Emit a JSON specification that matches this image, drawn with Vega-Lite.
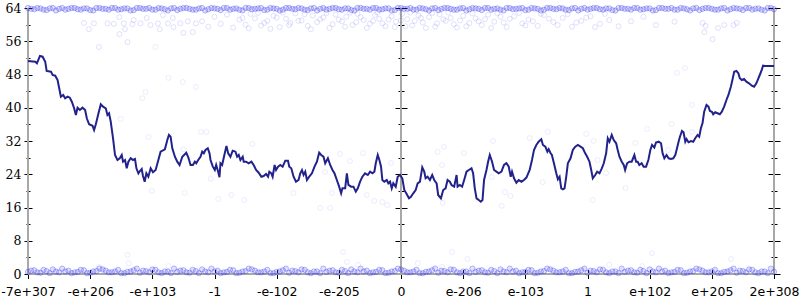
{
"$schema":"https://vega.github.io/schema/vega-lite/v6.json",
"width":746,"height":266,"autosize":"none",
"padding":{"left":28,"top":8,"right":26,"bottom":26},
"background":"white",
"config":{"view":{"stroke":null},"axis":{"grid":false,"domain":false,"tickColor":"#000","tickWidth":1,"labelColor":"#000"}},
"resolve":{"axis":{"x":"independent","y":"independent"}},
"datasets":{
"vr":[{"x":-6},{"x":0},{"x":6}],
"hr":[{"y":0}],
"top":[{"x":-6,"y":64},{"x":-5.9,"y":63.7},{"x":-5.8,"y":63.9},{"x":-5.7,"y":63.5},{"x":-5.6,"y":64},{"x":-5.5,"y":63.8},{"x":-5.4,"y":63.6},{"x":-5.3,"y":64},{"x":-5.2,"y":63.7},{"x":-5.1,"y":63.9},{"x":-5,"y":63.5},{"x":-4.9,"y":64},{"x":-4.8,"y":63.8},{"x":-4.7,"y":63.6},{"x":-4.6,"y":64},{"x":-4.5,"y":63.7},{"x":-4.4,"y":63.9},{"x":-4.3,"y":63.5},{"x":-4.2,"y":64},{"x":-4.1,"y":63.8},{"x":-4,"y":63.6},{"x":-3.9,"y":64},{"x":-3.8,"y":63.7},{"x":-3.7,"y":63.9},{"x":-3.6,"y":63.5},{"x":-3.5,"y":64},{"x":-3.4,"y":63.8},{"x":-3.3,"y":63.6},{"x":-3.2,"y":64},{"x":-3.1,"y":63.7},{"x":-3,"y":63.9},{"x":-2.9,"y":63.5},{"x":-2.8,"y":64},{"x":-2.7,"y":63.8},{"x":-2.6,"y":63.6},{"x":-2.5,"y":64},{"x":-2.4,"y":63.7},{"x":-2.3,"y":63.9},{"x":-2.2,"y":63.5},{"x":-2.1,"y":64},{"x":-2,"y":63.8},{"x":-1.9,"y":63.6},{"x":-1.8,"y":64},{"x":-1.7,"y":63.7},{"x":-1.6,"y":63.9},{"x":-1.5,"y":63.5},{"x":-1.4,"y":64},{"x":-1.3,"y":63.8},{"x":-1.2,"y":63.6},{"x":-1.1,"y":64},{"x":-1,"y":63.7},{"x":-0.9,"y":63.9},{"x":-0.8,"y":63.5},{"x":-0.7,"y":64},{"x":-0.6,"y":63.8},{"x":-0.5,"y":63.6},{"x":-0.4,"y":64},{"x":-0.3,"y":63.7},{"x":-0.2,"y":63.9},{"x":-0.1,"y":63.5},{"x":0,"y":64},{"x":0.1,"y":63.8},{"x":0.2,"y":63.6},{"x":0.3,"y":64},{"x":0.4,"y":63.7},{"x":0.5,"y":63.9},{"x":0.6,"y":63.5},{"x":0.7,"y":64},{"x":0.8,"y":63.8},{"x":0.9,"y":63.6},{"x":1,"y":64},{"x":1.1,"y":63.7},{"x":1.2,"y":63.9},{"x":1.3,"y":63.5},{"x":1.4,"y":64},{"x":1.5,"y":63.8},{"x":1.6,"y":63.6},{"x":1.7,"y":64},{"x":1.8,"y":63.7},{"x":1.9,"y":63.9},{"x":2,"y":63.5},{"x":2.1,"y":64},{"x":2.2,"y":63.8},{"x":2.3,"y":63.6},{"x":2.4,"y":64},{"x":2.5,"y":63.7},{"x":2.6,"y":63.9},{"x":2.7,"y":63.5},{"x":2.8,"y":64},{"x":2.9,"y":63.8},{"x":3,"y":63.6},{"x":3.1,"y":64},{"x":3.2,"y":63.7},{"x":3.3,"y":63.9},{"x":3.4,"y":63.5},{"x":3.5,"y":64},{"x":3.6,"y":63.8},{"x":3.7,"y":63.6},{"x":3.8,"y":64},{"x":3.9,"y":63.7},{"x":4,"y":63.9},{"x":4.1,"y":63.5},{"x":4.2,"y":64},{"x":4.3,"y":63.8},{"x":4.4,"y":63.6},{"x":4.5,"y":64},{"x":4.6,"y":63.7},{"x":4.7,"y":63.9},{"x":4.8,"y":63.5},{"x":4.9,"y":64},{"x":5,"y":63.8},{"x":5.1,"y":63.6},{"x":5.2,"y":64},{"x":5.3,"y":63.7},{"x":5.4,"y":63.9},{"x":5.5,"y":63.5},{"x":5.6,"y":64},{"x":5.7,"y":63.8},{"x":5.8,"y":63.6},{"x":5.9,"y":64},{"x":6,"y":63.7},
{"x":-5.95,"y":63.8},{"x":-5.85,"y":64},{"x":-5.75,"y":63.6},{"x":-5.65,"y":63.9},{"x":-5.55,"y":63.4},{"x":-5.45,"y":64},{"x":-5.35,"y":63.8},{"x":-5.25,"y":64},{"x":-5.15,"y":63.6},{"x":-5.05,"y":63.9},{"x":-4.95,"y":63.4},{"x":-4.85,"y":64},{"x":-4.75,"y":63.8},{"x":-4.65,"y":64},{"x":-4.55,"y":63.6},{"x":-4.45,"y":63.9},{"x":-4.35,"y":63.4},{"x":-4.25,"y":64},{"x":-4.15,"y":63.8},{"x":-4.05,"y":64},{"x":-3.95,"y":63.6},{"x":-3.85,"y":63.9},{"x":-3.75,"y":63.4},{"x":-3.65,"y":64},{"x":-3.55,"y":63.8},{"x":-3.45,"y":64},{"x":-3.35,"y":63.6},{"x":-3.25,"y":63.9},{"x":-3.15,"y":63.4},{"x":-3.05,"y":64},{"x":-2.95,"y":63.8},{"x":-2.85,"y":64},{"x":-2.75,"y":63.6},{"x":-2.65,"y":63.9},{"x":-2.55,"y":63.4},{"x":-2.45,"y":64},{"x":-2.35,"y":63.8},{"x":-2.25,"y":64},{"x":-2.15,"y":63.6},{"x":-2.05,"y":63.9},{"x":-1.95,"y":63.4},{"x":-1.85,"y":64},{"x":-1.75,"y":63.8},{"x":-1.65,"y":64},{"x":-1.55,"y":63.6},{"x":-1.45,"y":63.9},{"x":-1.35,"y":63.4},{"x":-1.25,"y":64},{"x":-1.15,"y":63.8},{"x":-1.05,"y":64},{"x":-0.95,"y":63.6},{"x":-0.85,"y":63.9},{"x":-0.75,"y":63.4},{"x":-0.65,"y":64},{"x":-0.55,"y":63.8},{"x":-0.45,"y":64},{"x":-0.35,"y":63.6},{"x":-0.25,"y":63.9},{"x":-0.15,"y":63.4},{"x":-0.05,"y":64},{"x":0.05,"y":63.8},{"x":0.15,"y":64},{"x":0.25,"y":63.6},{"x":0.35,"y":63.9},{"x":0.45,"y":63.4},{"x":0.55,"y":64},{"x":0.65,"y":63.8},{"x":0.75,"y":64},{"x":0.85,"y":63.6},{"x":0.95,"y":63.9},{"x":1.05,"y":63.4},{"x":1.15,"y":64},{"x":1.25,"y":63.8},{"x":1.35,"y":64},{"x":1.45,"y":63.6},{"x":1.55,"y":63.9},{"x":1.65,"y":63.4},{"x":1.75,"y":64},{"x":1.85,"y":63.8},{"x":1.95,"y":64},{"x":2.05,"y":63.6},{"x":2.15,"y":63.9},{"x":2.25,"y":63.4},{"x":2.35,"y":64},{"x":2.45,"y":63.8},{"x":2.55,"y":64},{"x":2.65,"y":63.6},{"x":2.75,"y":63.9},{"x":2.85,"y":63.4},{"x":2.95,"y":64},{"x":3.05,"y":63.8},{"x":3.15,"y":64},{"x":3.25,"y":63.6},{"x":3.35,"y":63.9},{"x":3.45,"y":63.4},{"x":3.55,"y":64},{"x":3.65,"y":63.8},{"x":3.75,"y":64},{"x":3.85,"y":63.6},{"x":3.95,"y":63.9},{"x":4.05,"y":63.4},{"x":4.15,"y":64},{"x":4.25,"y":63.8},{"x":4.35,"y":64},{"x":4.45,"y":63.6},{"x":4.55,"y":63.9},{"x":4.65,"y":63.4},{"x":4.75,"y":64},{"x":4.85,"y":63.8},{"x":4.95,"y":64},{"x":5.05,"y":63.6},{"x":5.15,"y":63.9},{"x":5.25,"y":63.4},{"x":5.35,"y":64},{"x":5.45,"y":63.8},{"x":5.55,"y":64},{"x":5.65,"y":63.6},{"x":5.75,"y":63.9},{"x":5.85,"y":63.4},{"x":5.95,"y":64}],
"bot":[{"x":-6,"y":0.5},{"x":-5.9,"y":0.9},{"x":-5.8,"y":0.3},{"x":-5.7,"y":0.7},{"x":-5.6,"y":1.1},{"x":-5.5,"y":0.4},{"x":-5.4,"y":0.6},{"x":-5.3,"y":0.2},{"x":-5.2,"y":0.5},{"x":-5.1,"y":0.9},{"x":-5,"y":0.3},{"x":-4.9,"y":0.7},{"x":-4.8,"y":1.1},{"x":-4.7,"y":0.4},{"x":-4.6,"y":0.6},{"x":-4.5,"y":0.2},{"x":-4.4,"y":0.5},{"x":-4.3,"y":0.9},{"x":-4.2,"y":0.3},{"x":-4.1,"y":0.7},{"x":-4,"y":1.1},{"x":-3.9,"y":0.4},{"x":-3.8,"y":0.6},{"x":-3.7,"y":0.2},{"x":-3.6,"y":0.5},{"x":-3.5,"y":0.9},{"x":-3.4,"y":0.3},{"x":-3.3,"y":0.7},{"x":-3.2,"y":1.1},{"x":-3.1,"y":0.4},{"x":-3,"y":0.6},{"x":-2.9,"y":0.2},{"x":-2.8,"y":0.5},{"x":-2.7,"y":0.9},{"x":-2.6,"y":0.3},{"x":-2.5,"y":0.7},{"x":-2.4,"y":1.1},{"x":-2.3,"y":0.4},{"x":-2.2,"y":0.6},{"x":-2.1,"y":0.2},{"x":-2,"y":0.5},{"x":-1.9,"y":0.9},{"x":-1.8,"y":0.3},{"x":-1.7,"y":0.7},{"x":-1.6,"y":1.1},{"x":-1.5,"y":0.4},{"x":-1.4,"y":0.6},{"x":-1.3,"y":0.2},{"x":-1.2,"y":0.5},{"x":-1.1,"y":0.9},{"x":-1,"y":0.3},{"x":-0.9,"y":0.7},{"x":-0.8,"y":1.1},{"x":-0.7,"y":0.4},{"x":-0.6,"y":0.6},{"x":-0.5,"y":0.2},{"x":-0.4,"y":0.5},{"x":-0.3,"y":0.9},{"x":-0.2,"y":0.3},{"x":-0.1,"y":0.7},{"x":0,"y":1.1},{"x":0.1,"y":0.4},{"x":0.2,"y":0.6},{"x":0.3,"y":0.2},{"x":0.4,"y":0.5},{"x":0.5,"y":0.9},{"x":0.6,"y":0.3},{"x":0.7,"y":0.7},{"x":0.8,"y":1.1},{"x":0.9,"y":0.4},{"x":1,"y":0.6},{"x":1.1,"y":0.2},{"x":1.2,"y":0.5},{"x":1.3,"y":0.9},{"x":1.4,"y":0.3},{"x":1.5,"y":0.7},{"x":1.6,"y":1.1},{"x":1.7,"y":0.4},{"x":1.8,"y":0.6},{"x":1.9,"y":0.2},{"x":2,"y":0.5},{"x":2.1,"y":0.9},{"x":2.2,"y":0.3},{"x":2.3,"y":0.7},{"x":2.4,"y":1.1},{"x":2.5,"y":0.4},{"x":2.6,"y":0.6},{"x":2.7,"y":0.2},{"x":2.8,"y":0.5},{"x":2.9,"y":0.9},{"x":3,"y":0.3},{"x":3.1,"y":0.7},{"x":3.2,"y":1.1},{"x":3.3,"y":0.4},{"x":3.4,"y":0.6},{"x":3.5,"y":0.2},{"x":3.6,"y":0.5},{"x":3.7,"y":0.9},{"x":3.8,"y":0.3},{"x":3.9,"y":0.7},{"x":4,"y":1.1},{"x":4.1,"y":0.4},{"x":4.2,"y":0.6},{"x":4.3,"y":0.2},{"x":4.4,"y":0.5},{"x":4.5,"y":0.9},{"x":4.6,"y":0.3},{"x":4.7,"y":0.7},{"x":4.8,"y":1.1},{"x":4.9,"y":0.4},{"x":5,"y":0.6},{"x":5.1,"y":0.2},{"x":5.2,"y":0.5},{"x":5.3,"y":0.9},{"x":5.4,"y":0.3},{"x":5.5,"y":0.7},{"x":5.6,"y":1.1},{"x":5.7,"y":0.4},{"x":5.8,"y":0.6},{"x":5.9,"y":0.2},{"x":6,"y":0.5},
{"x":-5.95,"y":0.8},{"x":-5.85,"y":0.4},{"x":-5.75,"y":1.0},{"x":-5.65,"y":0.2},{"x":-5.55,"y":0.6},{"x":-5.45,"y":1.3},{"x":-5.35,"y":0.8},{"x":-5.25,"y":0.4},{"x":-5.15,"y":1.0},{"x":-5.05,"y":0.2},{"x":-4.95,"y":0.6},{"x":-4.85,"y":1.3},{"x":-4.75,"y":0.8},{"x":-4.65,"y":0.4},{"x":-4.55,"y":1.0},{"x":-4.45,"y":0.2},{"x":-4.35,"y":0.6},{"x":-4.25,"y":1.3},{"x":-4.15,"y":0.8},{"x":-4.05,"y":0.4},{"x":-3.95,"y":1.0},{"x":-3.85,"y":0.2},{"x":-3.75,"y":0.6},{"x":-3.65,"y":1.3},{"x":-3.55,"y":0.8},{"x":-3.45,"y":0.4},{"x":-3.35,"y":1.0},{"x":-3.25,"y":0.2},{"x":-3.15,"y":0.6},{"x":-3.05,"y":1.3},{"x":-2.95,"y":0.8},{"x":-2.85,"y":0.4},{"x":-2.75,"y":1.0},{"x":-2.65,"y":0.2},{"x":-2.55,"y":0.6},{"x":-2.45,"y":1.3},{"x":-2.35,"y":0.8},{"x":-2.25,"y":0.4},{"x":-2.15,"y":1.0},{"x":-2.05,"y":0.2},{"x":-1.95,"y":0.6},{"x":-1.85,"y":1.3},{"x":-1.75,"y":0.8},{"x":-1.65,"y":0.4},{"x":-1.55,"y":1.0},{"x":-1.45,"y":0.2},{"x":-1.35,"y":0.6},{"x":-1.25,"y":1.3},{"x":-1.15,"y":0.8},{"x":-1.05,"y":0.4},{"x":-0.95,"y":1.0},{"x":-0.85,"y":0.2},{"x":-0.75,"y":0.6},{"x":-0.65,"y":1.3},{"x":-0.55,"y":0.8},{"x":-0.45,"y":0.4},{"x":-0.35,"y":1.0},{"x":-0.25,"y":0.2},{"x":-0.15,"y":0.6},{"x":-0.05,"y":1.3},{"x":0.05,"y":0.8},{"x":0.15,"y":0.4},{"x":0.25,"y":1.0},{"x":0.35,"y":0.2},{"x":0.45,"y":0.6},{"x":0.55,"y":1.3},{"x":0.65,"y":0.8},{"x":0.75,"y":0.4},{"x":0.85,"y":1.0},{"x":0.95,"y":0.2},{"x":1.05,"y":0.6},{"x":1.15,"y":1.3},{"x":1.25,"y":0.8},{"x":1.35,"y":0.4},{"x":1.45,"y":1.0},{"x":1.55,"y":0.2},{"x":1.65,"y":0.6},{"x":1.75,"y":1.3},{"x":1.85,"y":0.8},{"x":1.95,"y":0.4},{"x":2.05,"y":1.0},{"x":2.15,"y":0.2},{"x":2.25,"y":0.6},{"x":2.35,"y":1.3},{"x":2.45,"y":0.8},{"x":2.55,"y":0.4},{"x":2.65,"y":1.0},{"x":2.75,"y":0.2},{"x":2.85,"y":0.6},{"x":2.95,"y":1.3},{"x":3.05,"y":0.8},{"x":3.15,"y":0.4},{"x":3.25,"y":1.0},{"x":3.35,"y":0.2},{"x":3.45,"y":0.6},{"x":3.55,"y":1.3},{"x":3.65,"y":0.8},{"x":3.75,"y":0.4},{"x":3.85,"y":1.0},{"x":3.95,"y":0.2},{"x":4.05,"y":0.6},{"x":4.15,"y":1.3},{"x":4.25,"y":0.8},{"x":4.35,"y":0.4},{"x":4.45,"y":1.0},{"x":4.55,"y":0.2},{"x":4.65,"y":0.6},{"x":4.75,"y":1.3},{"x":4.85,"y":0.8},{"x":4.95,"y":0.4},{"x":5.05,"y":1.0},{"x":5.15,"y":0.2},{"x":5.25,"y":0.6},{"x":5.35,"y":1.3},{"x":5.45,"y":0.8},{"x":5.55,"y":0.4},{"x":5.65,"y":1.0},{"x":5.75,"y":0.2},{"x":5.85,"y":0.6},{"x":5.95,"y":1.3}],
"cloud":[{"x":-5.1,"y":60.4},{"x":-5.02,"y":58.9},{"x":-4.94,"y":60.3},{"x":-4.72,"y":60.3},{"x":-4.62,"y":60.2},{"x":-4.53,"y":61.8},{"x":-4.46,"y":60.3},{"x":-4.44,"y":58.9},{"x":-4.32,"y":60.1},{"x":-4.3,"y":61.1},{"x":-4.19,"y":60.3},{"x":-4.09,"y":61.6},{"x":-4.03,"y":59.9},{"x":-3.91,"y":60.3},{"x":-3.88,"y":58.9},{"x":-3.83,"y":62.3},{"x":-3.75,"y":60.3},{"x":-3.67,"y":61.6},{"x":-3.66,"y":59.4},{"x":-3.55,"y":60.3},{"x":-3.5,"y":58.0},{"x":-3.43,"y":60.8},{"x":-3.35,"y":58.2},{"x":-3.3,"y":60.3},{"x":-4.53,"y":57.7},{"x":-4.4,"y":55.8},{"x":-4.86,"y":54.6},{"x":-3.2,"y":60.8},{"x":-3.1,"y":59.5},{"x":-3.0,"y":61.9},{"x":-2.9,"y":60.2},{"x":-2.8,"y":62.4},{"x":-2.7,"y":59.3},{"x":-2.6,"y":61.2},{"x":-2.5,"y":60.0},{"x":-2.42,"y":62.6},{"x":-2.35,"y":61.5},{"x":-2.25,"y":59.8},{"x":-2.15,"y":60.9},{"x":-2.05,"y":62.1},{"x":-1.95,"y":59.4},{"x":-1.85,"y":61.4},{"x":-1.78,"y":60.4},{"x":-1.7,"y":62.7},{"x":-1.6,"y":61.0},{"x":-1.5,"y":59.7},{"x":-1.42,"y":62.2},{"x":-1.35,"y":60.6},{"x":-1.25,"y":61.7},{"x":-1.15,"y":59.2},{"x":-1.05,"y":62.4},{"x":-0.95,"y":60.8},{"x":-0.88,"y":61.9},{"x":-0.78,"y":59.9},{"x":-0.7,"y":62.6},{"x":-0.6,"y":61.1},{"x":-0.5,"y":60.2},{"x":-0.42,"y":62.3},{"x":-0.35,"y":61.4},{"x":-0.25,"y":59.6},{"x":-0.15,"y":62.0},{"x":-0.08,"y":60.7},{"x":0.02,"y":62.6},{"x":0.1,"y":61.3},{"x":0.18,"y":59.8},{"x":0.28,"y":62.2},{"x":0.35,"y":60.5},{"x":0.45,"y":61.8},{"x":0.55,"y":59.5},{"x":0.62,"y":62.5},{"x":0.72,"y":60.9},{"x":0.8,"y":61.6},{"x":0.9,"y":59.3},{"x":1.0,"y":62.1},{"x":1.1,"y":60.4},{"x":1.2,"y":61.5},{"x":1.3,"y":59.9},{"x":1.4,"y":62.4},{"x":1.5,"y":60.7},{"x":1.6,"y":61.9},{"x":1.7,"y":59.4},{"x":1.82,"y":62.0},{"x":1.95,"y":60.3},{"x":2.05,"y":61.2},{"x":2.2,"y":59.7},{"x":2.3,"y":62.3},{"x":2.45,"y":60.6},{"x":2.6,"y":61.6},{"x":2.75,"y":59.5},{"x":2.9,"y":60.9},{"x":3.05,"y":62.0},{"x":3.2,"y":60.2},{"x":3.35,"y":61.1},{"x":3.5,"y":59.6},{"x":3.7,"y":60.8},{"x":3.9,"y":61.9},{"x":4.1,"y":59.9},{"x":4.4,"y":60.7},{"x":4.85,"y":60.4},{"x":4.9,"y":59.7},{"x":4.88,"y":58.2},{"x":5.1,"y":59.2},{"x":5.2,"y":59.9},{"x":5.35,"y":59.9},{"x":5.4,"y":60.4},{"x":5.01,"y":56.5},
{"x":-2.55,"y":61.6},{"x":-2.45,"y":59.1},{"x":-2.3,"y":62.8},{"x":-2.2,"y":60.4},{"x":-2.1,"y":59.0},{"x":-2.0,"y":61.7},{"x":-1.9,"y":62.9},{"x":-1.8,"y":59.9},{"x":-1.65,"y":60.9},{"x":-1.55,"y":62.5},{"x":-1.45,"y":58.9},{"x":-1.3,"y":61.3},{"x":-1.2,"y":62.8},{"x":-1.1,"y":60.1},{"x":-1.0,"y":61.2},{"x":-0.9,"y":59.5},{"x":-0.82,"y":62.9},{"x":-0.72,"y":60.6},{"x":-0.65,"y":61.8},{"x":-0.55,"y":59.2},{"x":-0.45,"y":60.9},{"x":-0.38,"y":62.9},{"x":-0.3,"y":60.3},{"x":-0.2,"y":61.2},{"x":-0.1,"y":59.4},{"x":0.0,"y":61.0},{"x":0.07,"y":59.6},{"x":0.15,"y":62.9},{"x":0.22,"y":60.9},{"x":0.32,"y":61.6},{"x":0.4,"y":59.2},{"x":0.5,"y":62.8},{"x":0.58,"y":60.3},{"x":0.68,"y":61.3},{"x":0.76,"y":62.9},{"x":0.85,"y":60.1},{"x":0.95,"y":61.0},{"x":1.05,"y":59.6},{"x":1.15,"y":62.7},{"x":1.25,"y":60.8},{"x":1.35,"y":61.3},{"x":1.45,"y":59.2},{"x":1.55,"y":62.7},{"x":1.65,"y":60.5},{"x":1.75,"y":61.4},{"x":1.9,"y":62.8},{"x":2.0,"y":59.8},{"x":2.12,"y":60.8},{"x":2.25,"y":62.6},{"x":2.38,"y":61.4},{"x":2.52,"y":59.9},{"x":2.68,"y":62.5},{"x":2.82,"y":60.5},{"x":2.98,"y":61.7},{"x":3.12,"y":59.4},{"x":3.28,"y":62.6}],
"mid":[{"x":-3.74,"y":47.2},{"x":-3.51,"y":46.2},{"x":-3.3,"y":45.0},{"x":-4.11,"y":43.8},{"x":-4.16,"y":42.3},{"x":-3.95,"y":54.6},{"x":-4.51,"y":37.3},{"x":-4.06,"y":33.0},{"x":-4.01,"y":20.0},{"x":-3.22,"y":34.2},{"x":-3.13,"y":34.2},{"x":-2.39,"y":31.3},{"x":-3.06,"y":22.9},{"x":-3.48,"y":19.5},{"x":-2.73,"y":19.0},{"x":-2.94,"y":18.0},{"x":-2.52,"y":17.8},{"x":-3.5,"y":30.0},{"x":-0.98,"y":28.9},{"x":-0.61,"y":29.1},{"x":-0.82,"y":27.2},{"x":-1.22,"y":24.5},{"x":-1.73,"y":19.5},{"x":-1.11,"y":19.5},{"x":-0.55,"y":19.0},{"x":-0.43,"y":17.6},{"x":-0.3,"y":17.3},{"x":-0.22,"y":16.6},{"x":-1.3,"y":15.9},{"x":-1.14,"y":15.9},{"x":-0.16,"y":26.7},{"x":0.69,"y":30.6},{"x":0.59,"y":29.4},{"x":1.01,"y":29.1},{"x":1.48,"y":32.0},{"x":0.66,"y":26.2},{"x":1.46,"y":23.3},{"x":1.67,"y":19.7},{"x":1.76,"y":18.8},{"x":1.62,"y":16.4},{"x":0.67,"y":17.1},{"x":2.07,"y":32.7},{"x":2.36,"y":34.2},{"x":2.98,"y":33.7},{"x":3.1,"y":32.0},{"x":3.77,"y":31.5},{"x":3.96,"y":34.9},{"x":3.16,"y":27.4},{"x":3.3,"y":24.3},{"x":2.28,"y":22.1},{"x":3.61,"y":20.7},{"x":3.08,"y":17.8},{"x":4.44,"y":48.4},{"x":4.57,"y":49.6},{"x":4.68,"y":40.7},{"x":4.35,"y":36.1},{"x":4.68,"y":34.2},{"x":4.3,"y":29.8},{"x":-4.4,"y":4.6},{"x":-4.38,"y":2.6},{"x":-4.86,"y":1.7},{"x":-3.74,"y":1.9},{"x":-0.93,"y":5.3},{"x":-0.87,"y":2.9},{"x":-0.69,"y":2.2},{"x":0.27,"y":2.6},{"x":0.82,"y":5.3},{"x":1.07,"y":3.6},{"x":0.66,"y":1.7},{"x":4.04,"y":5.0},{"x":3.35,"y":2.2},{"x":3.88,"y":1.9},{"x":5.31,"y":3.6}],
"line":[{"x":-6,"y":51.25},{"x":-5.883,"y":51.08},{"x":-5.856,"y":50.7},{"x":-5.808,"y":52.46},{"x":-5.765,"y":52.29},{"x":-5.723,"y":51.08},{"x":-5.7,"y":48.85},{"x":-5.631,"y":48.68},{"x":-5.604,"y":47.88},{"x":-5.562,"y":47.72},{"x":-5.524,"y":46.68},{"x":-5.498,"y":44.68},{"x":-5.471,"y":42.66},{"x":-5.434,"y":43.07},{"x":-5.402,"y":42.28},{"x":-5.364,"y":42.66},{"x":-5.327,"y":42.42},{"x":-5.295,"y":41.46},{"x":-5.258,"y":39.87},{"x":-5.23,"y":38.26},{"x":-5.203,"y":40.02},{"x":-5.166,"y":39.46},{"x":-5.123,"y":40.02},{"x":-5.081,"y":39.46},{"x":-5.054,"y":37.46},{"x":-5.017,"y":36.02},{"x":-4.962,"y":35.68},{"x":-4.937,"y":34.65},{"x":-4.909,"y":36.02},{"x":-4.866,"y":38.67},{"x":-4.829,"y":40.83},{"x":-4.792,"y":40.26},{"x":-4.749,"y":39.87},{"x":-4.722,"y":38.26},{"x":-4.696,"y":38.67},{"x":-4.669,"y":36.65},{"x":-4.632,"y":32.65},{"x":-4.6,"y":28.63},{"x":-4.561,"y":27.43},{"x":-4.524,"y":27.84},{"x":-4.492,"y":28.63},{"x":-4.471,"y":27.02},{"x":-4.439,"y":27.43},{"x":-4.412,"y":25.43},{"x":-4.385,"y":27.02},{"x":-4.348,"y":27.84},{"x":-4.311,"y":27.43},{"x":-4.279,"y":27.67},{"x":-4.256,"y":25.43},{"x":-4.224,"y":24.23},{"x":-4.199,"y":24.78},{"x":-4.171,"y":25.27},{"x":-4.151,"y":23.65},{"x":-4.123,"y":22.21},{"x":-4.096,"y":24.23},{"x":-4.064,"y":23.41},{"x":-4.027,"y":25.43},{"x":-3.99,"y":24.47},{"x":-3.947,"y":25.02},{"x":-3.903,"y":27.43},{"x":-3.867,"y":29.43},{"x":-3.798,"y":30.01},{"x":-3.759,"y":32.24},{"x":-3.733,"y":33.45},{"x":-3.706,"y":33.04},{"x":-3.679,"y":30.25},{"x":-3.637,"y":28.22},{"x":-3.599,"y":27.02},{"x":-3.562,"y":26.23},{"x":-3.518,"y":28.22},{"x":-3.454,"y":29.19},{"x":-3.422,"y":28.08},{"x":-3.385,"y":26.23},{"x":-3.348,"y":26.23},{"x":-3.316,"y":27.02},{"x":-3.294,"y":26.64},{"x":-3.262,"y":27.43},{"x":-3.225,"y":28.22},{"x":-3.198,"y":29.43},{"x":-3.172,"y":29.04},{"x":-3.145,"y":29.84},{"x":-3.108,"y":30.25},{"x":-3.08,"y":29.04},{"x":-3.064,"y":27.43},{"x":-3.027,"y":25.82},{"x":-2.995,"y":25.02},{"x":-2.973,"y":26.23},{"x":-2.941,"y":24.62},{"x":-2.92,"y":23.27},{"x":-2.904,"y":26.64},{"x":-2.877,"y":26.23},{"x":-2.835,"y":29.04},{"x":-2.808,"y":30.8},{"x":-2.78,"y":29.04},{"x":-2.744,"y":28.22},{"x":-2.707,"y":29.67},{"x":-2.663,"y":29.43},{"x":-2.636,"y":28.22},{"x":-2.61,"y":28.63},{"x":-2.583,"y":27.43},{"x":-2.546,"y":28.22},{"x":-2.53,"y":27.02},{"x":-2.492,"y":27.02},{"x":-2.45,"y":26.64},{"x":-2.407,"y":27.02},{"x":-2.37,"y":26.23},{"x":-2.331,"y":25.02},{"x":-2.289,"y":24.37},{"x":-2.246,"y":23.41},{"x":-2.209,"y":23.58},{"x":-2.171,"y":24.06},{"x":-2.139,"y":23.41},{"x":-2.118,"y":24.62},{"x":-2.086,"y":24.23},{"x":-2.065,"y":23.41},{"x":-2.033,"y":26.23},{"x":-2.01,"y":25.02},{"x":-1.978,"y":25.82},{"x":-1.941,"y":26.23},{"x":-1.904,"y":25.82},{"x":-1.861,"y":27.26},{"x":-1.818,"y":27.26},{"x":-1.797,"y":25.82},{"x":-1.765,"y":25.43},{"x":-1.728,"y":23.41},{"x":-1.689,"y":22.21},{"x":-1.648,"y":22.62},{"x":-1.62,"y":24.23},{"x":-1.593,"y":25.02},{"x":-1.567,"y":23.82},{"x":-1.54,"y":24.62},{"x":-1.513,"y":22.62},{"x":-1.476,"y":23.41},{"x":-1.433,"y":24.23},{"x":-1.391,"y":25.82},{"x":-1.353,"y":27.02},{"x":-1.316,"y":29.19},{"x":-1.284,"y":28.63},{"x":-1.247,"y":28.22},{"x":-1.219,"y":26.64},{"x":-1.176,"y":27.84},{"x":-1.139,"y":26.23},{"x":-1.102,"y":25.02},{"x":-1.07,"y":24.23},{"x":-1.032,"y":22.62},{"x":-0.995,"y":21.01},{"x":-0.963,"y":19.42},{"x":-0.942,"y":20.62},{"x":-0.898,"y":20.62},{"x":-0.871,"y":24.23},{"x":-0.846,"y":21.42},{"x":-0.802,"y":21.01},{"x":-0.765,"y":21.01},{"x":-0.727,"y":19.8},{"x":-0.695,"y":20.62},{"x":-0.658,"y":22.21},{"x":-0.621,"y":23.41},{"x":-0.578,"y":24.23},{"x":-0.534,"y":23.82},{"x":-0.497,"y":24.62},{"x":-0.46,"y":24.23},{"x":-0.428,"y":24.62},{"x":-0.406,"y":26.64},{"x":-0.374,"y":28.63},{"x":-0.348,"y":27.43},{"x":-0.321,"y":25.82},{"x":-0.3,"y":22.62},{"x":-0.268,"y":22.21},{"x":-0.229,"y":22.62},{"x":-0.204,"y":21.82},{"x":-0.176,"y":22.21},{"x":-0.149,"y":20.62},{"x":-0.124,"y":21.82},{"x":-0.085,"y":21.01},{"x":-0.053,"y":23.41},{"x":-0.016,"y":23.82},{"x":0.021,"y":23.03},{"x":0.053,"y":20.21},{"x":0.091,"y":19.25},{"x":0.128,"y":18.21},{"x":0.16,"y":18.6},{"x":0.197,"y":19.42},{"x":0.236,"y":20.21},{"x":0.268,"y":21.82},{"x":0.305,"y":22.21},{"x":0.342,"y":25.67},{"x":0.374,"y":24.62},{"x":0.396,"y":23.03},{"x":0.428,"y":23.41},{"x":0.465,"y":22.62},{"x":0.502,"y":23.82},{"x":0.534,"y":22.62},{"x":0.573,"y":21.82},{"x":0.598,"y":19.01},{"x":0.642,"y":18.21},{"x":0.679,"y":20.21},{"x":0.717,"y":20.62},{"x":0.749,"y":22.62},{"x":0.786,"y":22.21},{"x":0.813,"y":21.42},{"x":0.855,"y":21.01},{"x":0.894,"y":23.82},{"x":0.91,"y":21.01},{"x":0.947,"y":21.42},{"x":0.983,"y":21.01},{"x":1.016,"y":22.62},{"x":1.054,"y":24.62},{"x":1.091,"y":25.02},{"x":1.134,"y":25.43},{"x":1.16,"y":24.23},{"x":1.187,"y":20.62},{"x":1.215,"y":18.21},{"x":1.251,"y":17.81},{"x":1.284,"y":17.4},{"x":1.311,"y":17.81},{"x":1.336,"y":22.62},{"x":1.375,"y":25.02},{"x":1.401,"y":27.02},{"x":1.428,"y":28.63},{"x":1.465,"y":27.02},{"x":1.497,"y":25.02},{"x":1.535,"y":24.62},{"x":1.572,"y":24.23},{"x":1.616,"y":24.62},{"x":1.657,"y":26.23},{"x":1.696,"y":26.64},{"x":1.733,"y":25.82},{"x":1.765,"y":23.41},{"x":1.786,"y":24.62},{"x":1.818,"y":23.03},{"x":1.856,"y":21.97},{"x":1.893,"y":22.62},{"x":1.937,"y":22.21},{"x":1.978,"y":22.62},{"x":2.017,"y":23.2},{"x":2.07,"y":25.02},{"x":2.107,"y":27.43},{"x":2.139,"y":29.84},{"x":2.177,"y":31.04},{"x":2.214,"y":31.83},{"x":2.257,"y":32.41},{"x":2.283,"y":31.04},{"x":2.322,"y":30.63},{"x":2.354,"y":29.43},{"x":2.375,"y":30.01},{"x":2.407,"y":29.04},{"x":2.427,"y":28.63},{"x":2.46,"y":26.64},{"x":2.498,"y":24.23},{"x":2.524,"y":22.79},{"x":2.551,"y":23.41},{"x":2.578,"y":20.62},{"x":2.604,"y":20.38},{"x":2.631,"y":20.62},{"x":2.658,"y":23.41},{"x":2.684,"y":26.64},{"x":2.727,"y":27.84},{"x":2.764,"y":29.84},{"x":2.803,"y":30.63},{"x":2.845,"y":31.04},{"x":2.888,"y":30.63},{"x":2.925,"y":30.25},{"x":2.963,"y":29.04},{"x":2.995,"y":28.22},{"x":3.032,"y":27.02},{"x":3.06,"y":25.02},{"x":3.085,"y":23.03},{"x":3.124,"y":23.82},{"x":3.156,"y":24.62},{"x":3.193,"y":24.23},{"x":3.23,"y":25.43},{"x":3.262,"y":26.64},{"x":3.3,"y":29.04},{"x":3.326,"y":32.65},{"x":3.353,"y":31.83},{"x":3.39,"y":33.45},{"x":3.422,"y":32.24},{"x":3.461,"y":31.45},{"x":3.486,"y":29.84},{"x":3.514,"y":28.22},{"x":3.551,"y":27.02},{"x":3.583,"y":26.23},{"x":3.605,"y":25.02},{"x":3.637,"y":26.64},{"x":3.674,"y":27.02},{"x":3.711,"y":27.02},{"x":3.754,"y":28.63},{"x":3.782,"y":27.02},{"x":3.807,"y":27.02},{"x":3.834,"y":26.23},{"x":3.871,"y":26.64},{"x":3.903,"y":25.82},{"x":3.942,"y":25.82},{"x":3.979,"y":27.43},{"x":4.011,"y":29.84},{"x":4.038,"y":31.04},{"x":4.075,"y":30.44},{"x":4.102,"y":31.64},{"x":4.144,"y":31.83},{"x":4.183,"y":31.45},{"x":4.208,"y":29.04},{"x":4.236,"y":27.84},{"x":4.272,"y":28.63},{"x":4.305,"y":27.84},{"x":4.343,"y":27.67},{"x":4.38,"y":27.84},{"x":4.412,"y":28.63},{"x":4.433,"y":29.84},{"x":4.465,"y":31.83},{"x":4.487,"y":33.04},{"x":4.52,"y":34.41},{"x":4.545,"y":34.1},{"x":4.573,"y":31.83},{"x":4.593,"y":32.48},{"x":4.625,"y":31.69},{"x":4.664,"y":32.0},{"x":4.701,"y":31.83},{"x":4.733,"y":32.65},{"x":4.77,"y":33.45},{"x":4.797,"y":33.04},{"x":4.824,"y":35.06},{"x":4.85,"y":36.26},{"x":4.877,"y":39.05},{"x":4.914,"y":40.66},{"x":4.946,"y":40.26},{"x":4.969,"y":39.22},{"x":5.001,"y":39.05},{"x":5.022,"y":38.43},{"x":5.054,"y":38.91},{"x":5.091,"y":38.67},{"x":5.129,"y":38.43},{"x":5.161,"y":39.05},{"x":5.198,"y":40.26},{"x":5.235,"y":41.87},{"x":5.267,"y":43.07},{"x":5.306,"y":45.07},{"x":5.331,"y":46.68},{"x":5.359,"y":48.68},{"x":5.395,"y":48.85},{"x":5.427,"y":48.29},{"x":5.45,"y":47.09},{"x":5.482,"y":46.68},{"x":5.519,"y":46.92},{"x":5.556,"y":46.27},{"x":5.599,"y":45.89},{"x":5.643,"y":45.31},{"x":5.68,"y":45.07},{"x":5.716,"y":45.89},{"x":5.749,"y":47.09},{"x":5.771,"y":47.88},{"x":5.803,"y":49.09},{"x":5.824,"y":50.12},{"x":5.856,"y":50.05},{"x":6,"y":50.05}]
},
"layer":[
{"data":{"name":"vr"},"mark":{"type":"rule","color":"#a8a8a8","strokeWidth":2},
 "encoding":{"x":{"field":"x","type":"quantitative","scale":{"domain":[-6,6],"nice":false,"zero":false},
  "axis":{"orient":"bottom","title":null,"values":[-6,-5,-4,-3,-2,-1,0,1,2,3,4,5,6],"labelExpr":"['-7e+307','-e+206','-e+103','-1','-e-102','-e-205','0','e-206','e-103','1','e+102','e+205','2e+308'][round(datum.value)+6]","tickSize":9,"offset":-4.5,"labelPadding":6.5,"labelFont":"DejaVu Sans","labelFontSize":12.5,"labelOverlap":false,"labelFlush":false,"domain":false,"grid":false}}}},
{"data":{"name":"hr"},"mark":{"type":"rule","color":"#a8a8a8","strokeWidth":2},
 "encoding":{"y":{"field":"y","type":"quantitative","scale":{"domain":[0,64],"nice":false,"zero":false},
  "axis":{"orient":"left","title":null,"values":[0,8,16,24,32,40,48,56,64],"tickSize":8,"offset":-4,"labelPadding":3,"labelFont":"DejaVu Serif","labelFontSize":12.5,"labelOverlap":false,"labelFlush":false,"domain":false,"grid":false}}}},
{"data":{"name":"top"},"mark":{"type":"point","shape":"circle","filled":true,"color":"#3333ee","fillOpacity":0.14,"stroke":"#3333ee","strokeOpacity":0.32,"strokeWidth":1,"size":28},
 "encoding":{"x":{"field":"x","type":"quantitative","scale":{"domain":[-6,6],"nice":false,"zero":false},"axis":null},
  "y":{"field":"y","type":"quantitative","scale":{"domain":[0,64],"nice":false,"zero":false},
  "axis":{"orient":"left","title":null,"values":[4,12,20,28,36,44,52,60],"tickSize":4,"offset":-2,"labels":false,"domain":false,"grid":false}}}},
{"data":{"name":"bot"},"mark":{"type":"point","shape":"circle","filled":true,"color":"#3333ee","fillOpacity":0.14,"stroke":"#3333ee","strokeOpacity":0.32,"strokeWidth":1,"size":28},
 "encoding":{"x":{"field":"x","type":"quantitative","scale":{"domain":[-6,6],"nice":false,"zero":false},"axis":null},
  "y":{"field":"y","type":"quantitative","scale":{"domain":[0,64],"nice":false,"zero":false},
  "axis":{"orient":"right","title":null,"values":[0,8,16,24,32,40,48,56,64],"tickSize":12,"offset":-6,"labels":false,"domain":false,"grid":false}}}},
{"data":{"name":"cloud"},"mark":{"type":"point","shape":"circle","filled":false,"color":"#3333ee","strokeOpacity":0.2,"strokeWidth":1,"size":25},
 "encoding":{"x":{"field":"x","type":"quantitative","scale":{"domain":[-6,6],"nice":false,"zero":false},"axis":null},
  "y":{"field":"y","type":"quantitative","scale":{"domain":[0,64],"nice":false,"zero":false},
  "axis":{"orient":"right","title":null,"values":[4,12,20,28,36,44,52,60],"tickSize":6,"offset":-3,"labels":false,"domain":false,"grid":false}}}},
{"data":{"name":"mid"},"mark":{"type":"point","shape":"circle","filled":false,"color":"#3333ee","strokeOpacity":0.12,"strokeWidth":1,"size":25},
 "encoding":{"x":{"field":"x","type":"quantitative","scale":{"domain":[-6,6],"nice":false,"zero":false},"axis":null},
  "y":{"field":"y","type":"quantitative","scale":{"domain":[0,64],"nice":false,"zero":false},
  "axis":{"orient":"left","title":null,"values":[0,8,16,24,32,40,48,56,64],"tickSize":12,"offset":-379,"labels":false,"domain":false,"grid":false}}}},
{"data":{"name":"line"},"mark":{"type":"line","color":"#22228c","strokeWidth":2},
 "encoding":{"x":{"field":"x","type":"quantitative","scale":{"domain":[-6,6],"nice":false,"zero":false},"axis":null},
  "y":{"field":"y","type":"quantitative","scale":{"domain":[0,64],"nice":false,"zero":false},
  "axis":{"orient":"left","title":null,"values":[4,12,20,28,36,44,52,60],"tickSize":6,"offset":-376,"labels":false,"domain":false,"grid":false}}}}
]
}
